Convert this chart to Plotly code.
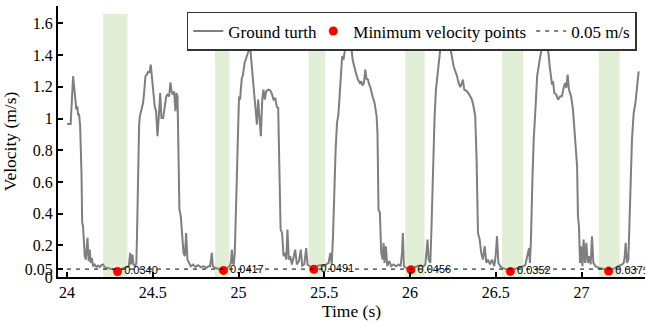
import plotly.graph_objects as go

# ---------------- data ----------------
ground_t = [
    24.000, 24.021, 24.035, 24.045, 24.049, 24.054, 24.060, 24.064, 24.070, 24.076,
    24.084, 24.088, 24.093, 24.099, 24.103, 24.109, 24.113, 24.119, 24.123, 24.126,
    24.132, 24.138, 24.144, 24.152, 24.161, 24.171, 24.181, 24.190, 24.200, 24.210,
    24.219, 24.239, 24.258, 24.278, 24.294, 24.307, 24.327, 24.346, 24.360, 24.368,
    24.373, 24.381, 24.387, 24.397, 24.404, 24.408, 24.414, 24.420, 24.424, 24.434,
    24.443, 24.449, 24.457, 24.465, 24.473, 24.480, 24.488, 24.496, 24.504, 24.511,
    24.519, 24.527, 24.535, 24.543, 24.550, 24.560, 24.570, 24.578, 24.585, 24.595,
    24.603, 24.609, 24.617, 24.624, 24.632, 24.638, 24.644, 24.650, 24.655, 24.663,
    24.671, 24.679, 24.687, 24.694, 24.702, 24.710, 24.721, 24.735, 24.749, 24.764,
    24.780, 24.795, 24.813,
    24.825, 24.834, 24.844, 24.850, 24.863, 24.883, 24.912, 24.932, 24.947, 24.955,
    24.961, 24.967, 24.972, 24.978, 24.986, 24.994, 25.002, 25.005, 25.009, 25.013,
    25.019, 25.025, 25.035, 25.048, 25.058, 25.068, 25.077, 25.087, 25.097, 25.107,
    25.114, 25.122, 25.130, 25.138, 25.145, 25.153, 25.161, 25.173, 25.184, 25.194,
    25.204, 25.214, 25.223, 25.231, 25.237, 25.245, 25.254, 25.262, 25.272, 25.278,
    25.285, 25.293, 25.301, 25.311, 25.320, 25.330, 25.340, 25.352, 25.363, 25.371,
    25.383, 25.394, 25.402, 25.414, 25.427, 25.439, 25.457, 25.476, 25.495, 25.511,
    25.525, 25.535, 25.543, 25.550, 25.558, 25.566, 25.574, 25.582, 25.589, 25.597,
    25.604, 25.612, 25.620, 25.628,
    25.632, 25.641, 25.649, 25.657, 25.665, 25.673, 25.684, 25.696, 25.708, 25.715,
    25.723, 25.731, 25.739, 25.746, 25.754, 25.762, 25.770, 25.781, 25.793, 25.805,
    25.810, 25.816, 25.824, 25.832, 25.840, 25.846, 25.851, 25.859, 25.867, 25.879,
    25.890, 25.904, 25.918, 25.933, 25.945, 25.953, 25.958, 25.964, 25.976, 25.991,
    26.005, 26.020, 26.040, 26.059, 26.079, 26.089, 26.095, 26.102, 26.108, 26.118,
    26.124, 26.131, 26.143, 26.151, 26.163, 26.176, 26.190, 26.205, 26.221, 26.233,
    26.240, 26.254, 26.264, 26.273, 26.283, 26.293, 26.303, 26.308, 26.316, 26.332,
    26.345, 26.361, 26.370, 26.380, 26.388, 26.396, 26.406, 26.415, 26.425, 26.435,
    26.445, 26.454, 26.466, 26.478,
    26.491, 26.499, 26.507, 26.515, 26.526, 26.538, 26.555, 26.585, 26.608, 26.633,
    26.659, 26.672, 26.682, 26.688, 26.694, 26.699, 26.705, 26.713, 26.721, 26.731,
    26.741, 26.756, 26.770, 26.779, 26.791, 26.802, 26.808, 26.814, 26.822, 26.828,
    26.834, 26.841, 26.853, 26.863, 26.876, 26.886, 26.896, 26.904, 26.911, 26.919,
    26.927, 26.939, 26.950, 26.958, 26.966, 26.974, 26.979, 26.985, 26.991, 26.997,
    27.005, 27.012, 27.020, 27.028, 27.036, 27.046, 27.053, 27.061, 27.069, 27.081,
    27.100, 27.129, 27.158, 27.184, 27.207, 27.222, 27.236, 27.246, 27.252, 27.257,
    27.265, 27.273, 27.281, 27.287, 27.294, 27.304, 27.314, 27.324, 27.333,
]
ground_v = [
    0.966, 0.966, 1.267, 1.140, 1.077, 1.056, 1.077, 1.025, 1.025, 0.956,
    0.657, 0.342, 0.320, 0.236, 0.131, 0.110, 0.152, 0.247, 0.152, 0.100,
    0.173, 0.089, 0.120, 0.068, 0.079, 0.064, 0.072, 0.062, 0.075, 0.079,
    0.062, 0.055, 0.051, 0.047, 0.034, 0.047, 0.055, 0.062, 0.068, 0.152,
    0.079, 0.141, 0.079, 0.068, 0.089, 0.278, 0.741, 0.956, 1.014, 1.056,
    1.098, 1.161, 1.267, 1.277, 1.298, 1.288, 1.340, 1.246, 1.140, 1.077,
    1.046, 0.888, 1.014, 1.161, 1.004, 1.004, 1.077, 1.140, 1.151, 1.140,
    1.228, 1.172, 1.151, 1.172, 1.046, 1.161, 1.140, 0.846, 0.426, 0.384,
    0.278, 0.152, 0.131, 0.278, 0.110, 0.089, 0.068, 0.079, 0.064, 0.075,
    0.062, 0.068, 0.058,
    0.068, 0.068, 0.152, 0.068, 0.058, 0.051, 0.0417, 0.055, 0.068, 0.089,
    0.173, 0.089, 0.079, 0.152, 0.489, 0.867, 1.119, 1.140, 1.119, 1.182,
    1.256, 1.271, 1.351, 1.393, 1.424, 1.456, 1.330, 1.214, 1.119, 0.962,
    1.119, 1.014, 0.888, 1.119, 1.182, 1.119, 1.172, 1.182, 1.178, 1.157,
    1.119, 1.130, 1.073, 1.067, 0.741, 0.299, 0.278, 0.131, 0.152, 0.110,
    0.299, 0.110, 0.131, 0.079, 0.120, 0.173, 0.079, 0.100, 0.173, 0.072,
    0.079, 0.183, 0.079, 0.068, 0.058, 0.0491, 0.068, 0.075, 0.068, 0.079,
    0.089, 0.152, 0.079, 0.236, 0.573, 0.804, 0.972, 1.025, 1.140, 1.267,
    1.393, 1.372, 1.435, 1.519,
    1.519, 1.560, 1.519, 1.456, 1.372, 1.330, 1.288, 1.246, 1.224, 1.235,
    1.208, 1.224, 1.309, 1.250, 1.246, 1.214, 1.193, 1.140, 1.098, 1.014,
    0.909, 0.426, 0.405, 0.152, 0.110, 0.215, 0.089, 0.194, 0.068, 0.100,
    0.068, 0.079, 0.068, 0.079, 0.068, 0.152, 0.278, 0.068, 0.058, 0.047,
    0.0456, 0.058, 0.068, 0.072, 0.068, 0.079, 0.152, 0.236, 0.110, 0.089,
    0.278, 0.594, 1.014, 1.182, 1.309, 1.435, 1.519, 1.560, 1.530, 1.456,
    1.414, 1.330, 1.298, 1.271, 1.224, 1.199, 1.224, 1.246, 1.182, 1.172,
    1.151, 1.119, 1.077, 1.014, 0.741, 0.278, 0.236, 0.152, 0.110, 0.194,
    0.089, 0.110, 0.079, 0.110,
    0.068, 0.131, 0.257, 0.089, 0.068, 0.058, 0.051, 0.0352, 0.051, 0.058,
    0.068, 0.075, 0.131, 0.173, 0.183, 0.089, 0.236, 0.594, 0.867, 1.056,
    1.267, 1.372, 1.456, 1.477, 1.467, 1.440, 1.404, 1.330, 1.246, 1.214,
    1.235, 1.161, 1.151, 1.119, 1.140, 1.140, 1.199, 1.224, 1.193, 1.277,
    1.182, 1.140, 1.056, 0.951, 0.846, 0.699, 0.384, 0.320, 0.089, 0.194,
    0.068, 0.236, 0.089, 0.215, 0.089, 0.131, 0.079, 0.257, 0.089, 0.068,
    0.058, 0.051, 0.0371, 0.051, 0.062, 0.068, 0.079, 0.089, 0.131, 0.215,
    0.089, 0.110, 0.384, 0.699, 0.867, 1.035, 1.098, 1.203, 1.298,
]

min_t = [24.294, 24.912, 25.439, 26.005, 26.585, 27.158]
min_v = [0.0340, 0.0417, 0.0491, 0.0456, 0.0352, 0.0371]

band_start = [24.210, 24.863, 25.408, 25.972, 26.536, 27.100]
band_end = [24.352, 24.947, 25.505, 26.085, 26.659, 27.222]
band_top = 1.66

threshold = 0.05

x_range = [23.947, 27.37]
y_range = [0, 1.71]
x_ticks = [24, 24.5, 25, 25.5, 26, 26.5, 27]
x_tick_text = ["24", "24.5", "25", "25.5", "26", "26.5", "27"]
y_ticks = [0, 0.05, 0.2, 0.4, 0.6, 0.8, 1.0, 1.2, 1.4, 1.6]
y_tick_text = ["0", "0.05", "0.2", "0.4", "0.6", "0.8", "1", "1.2", "1.4", "1.6"]

SERIF = "Liberation Serif"
SANS = "Liberation Sans"

fig = go.Figure()

fig.add_trace(go.Scatter(
    x=ground_t, y=ground_v, mode="lines", name="Ground turth",
    line=dict(color="#7f7f7f", width=2), legendwidth=80,
))

for a, b in zip(band_start, band_end):
    fig.add_trace(go.Scatter(
        x=[a, b, b, a, a], y=[0, 0, band_top, band_top, 0],
        mode="lines", fill="toself", fillcolor="rgba(140,190,90,0.25)",
        line=dict(width=0), showlegend=False, hoverinfo="skip",
    ))

fig.add_trace(go.Scatter(
    x=min_t, y=min_v, mode="markers+text", name="Minimum velocity points",
    marker=dict(color="#ff0000", size=9),
    text=[f"{v:.4f}" for v in min_v], textposition="middle right",
    textfont=dict(family=SANS, size=11, color="black"),
))

fig.add_trace(go.Scatter(
    x=x_range, y=[threshold, threshold], mode="lines", name="0.05 m/s",
    line=dict(color="black", width=1, dash="4px,5px"),
))

fig.update_layout(
    width=647, height=322,
    margin=dict(l=58, r=2, t=6, b=45),
    plot_bgcolor="white", paper_bgcolor="white",
    font=dict(family=SERIF, size=16, color="black"),
    showlegend=True,
    legend=dict(
        orientation="h", x=0.986, xanchor="right", y=0.978, yanchor="top",
        bgcolor="white", bordercolor="#333333", borderwidth=1.5,
        font=dict(family=SERIF, size=17), itemwidth=30,
        tracegroupgap=0,
    ),
)

fig.update_xaxes(
    range=x_range, tickvals=x_ticks, ticktext=x_tick_text,
    showline=True, linecolor="black", linewidth=2, mirror=False,
    ticks="inside", ticklen=5, tickwidth=1.5, tickcolor="black",
    showgrid=False, zeroline=False, automargin=False,
    title=dict(text="Time (s)", font=dict(family=SERIF, size=17.5), standoff=2),
    tickfont=dict(family=SERIF, size=16),
)
fig.update_yaxes(
    range=y_range, tickvals=y_ticks, ticktext=y_tick_text,
    showline=True, linecolor="black", linewidth=2, mirror=False,
    ticks="inside", ticklen=5, tickwidth=1.5, tickcolor="black",
    showgrid=False, zeroline=False, automargin=False,
    title=dict(text="Velocity (m/s)", font=dict(family=SERIF, size=17.5), standoff=4),
    tickfont=dict(family=SERIF, size=16),
)

fig.write_html(
    "out.html",
    config={"displayModeBar": False},
    post_script="document.body.style.margin='0';document.body.style.overflow='hidden';",
)
